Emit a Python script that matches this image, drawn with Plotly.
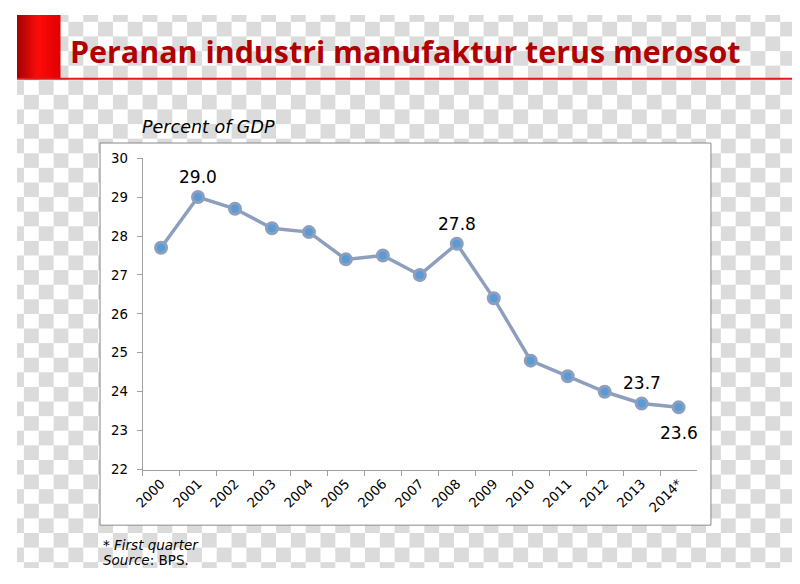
import zlib, struct, base64
import plotly.graph_objects as go

# ---- data ----
years = ["2000", "2001", "2002", "2003", "2004", "2005", "2006", "2007",
         "2008", "2009", "2010", "2011", "2012", "2013", "2014*"]
share = [27.7, 29.0, 28.7, 28.2, 28.1, 27.4, 27.5, 27.0,
         27.8, 26.4, 24.8, 24.4, 24.0, 23.7, 23.6]
labelled = {"2001": "top", "2008": "top", "2013": "top", "2014*": "bottom"}
y_ticks = [22, 23, 24, 25, 26, 27, 28, 29, 30]

# page is 800x584; the figure sits inside the 8px default body margin
OFF = 8
W, H = 800 - 2 * OFF, 584 - 2 * OFF


def px(x):
    return (x - OFF) / W


def py(y):
    return 1 - (y - OFF) / H


# ---- background picture: checkerboard + red gradient block ----
def png_uri(w, h, rows):
    raw = b"".join(b"\x00" + r for r in rows)

    def chunk(t, d):
        c = struct.pack(">I", len(d)) + t + d
        return c + struct.pack(">I", zlib.crc32(t + d) & 0xFFFFFFFF)

    png = (b"\x89PNG\r\n\x1a\n"
           + chunk(b"IHDR", struct.pack(">IIBBBBB", w, h, 8, 2, 0, 0, 0))
           + chunk(b"IDAT", zlib.compress(raw, 9))
           + chunk(b"IEND", b""))
    return "data:image/png;base64," + base64.b64encode(png).decode()


G = bytes((219, 219, 219))
Wh = bytes((255, 255, 255))
row_a = b"".join((G if (((x + OFF) // 15) % 2 == 1) else Wh) for x in range(W))
row_b = b"".join((G if (((x + OFF) // 15) % 2 == 0) else Wh) for x in range(W))


def red_at(sx):
    t = sx / 52.0
    if t < 0.55:
        s = t / 0.55
        return (int(125 + 130 * s), int(0 + 12 * s), int(0 + 12 * s))
    s = (t - 0.55) / 0.45
    return (int(255 - 30 * s), int(12 - 12 * s), int(12 - 12 * s))


RB = 52 - OFF
red_row = b"".join(bytes(red_at(x + OFF)) for x in range(RB))
rows = []
for y in range(H):
    r = row_a if ((y + OFF) // 15) % 2 == 0 else row_b
    if y + OFF < 73:
        r = red_row + r[RB * 3:]
    rows.append(r)
bg_uri = png_uri(W, H, rows)

# ---- figure ----
fig = go.Figure()
fig.add_trace(go.Scatter(
    x=years, y=share, mode="lines+markers",
    line=dict(color="#8d9fbd", width=3.5),
    marker=dict(size=11, color="#5b9bd5", line=dict(color="#8d9fbd", width=3)),
    cliponaxis=False, hoverinfo="skip",
))

label_anns = []
for i, (yr, v) in enumerate(zip(years, share)):
    if yr in labelled:
        up = labelled[yr] == "top"
        label_anns.append(dict(
            x=i, y=v, xref="x", yref="y", text=f"{v:.1f}", showarrow=False,
            xanchor="center", yanchor="middle", yshift=20 if up else -26,
            font=dict(family="DejaVu Sans", size=17, color="#000000")))

fig.update_layout(
    width=W, height=H,
    margin=dict(l=0, r=0, t=0, b=0),
    paper_bgcolor="white", plot_bgcolor="rgba(0,0,0,0)",
    showlegend=False,
    images=[dict(source=bg_uri, xref="paper", yref="paper", x=0, y=1,
                 sizex=1, sizey=1, xanchor="left", yanchor="top",
                 sizing="stretch", layer="below")],
    xaxis=dict(
        domain=[px(135), px(696)], type="category", range=[-0.5, 14.5],
        tickson="boundaries", ticks="outside", ticklen=5, tickcolor="#a0a0a0",
        showline=True, linecolor="#a0a0a0", linewidth=1, showgrid=False,
        tickangle=-45,
        tickfont=dict(family="DejaVu Sans", size=13.3, color="#000"),
    ),
    yaxis=dict(
        domain=[py(475), py(155)], range=[22, 30], tickvals=y_ticks,
        ticks="outside", ticklen=5, tickcolor="#a0a0a0",
        showline=True, linecolor="#a0a0a0", linewidth=1, showgrid=False,
        zeroline=False, ticklabelstandoff=6,
        tickfont=dict(family="DejaVu Sans", size=13.3, color="#000"),
    ),
    shapes=[
        dict(type="rect", xref="paper", yref="paper", layer="below",
             x0=px(92), x1=px(710), y0=py(532), y1=py(139.5),
             fillcolor="white", line=dict(color="#8a8a8a", width=1)),
        dict(type="line", xref="paper", yref="paper",
             x0=0, x1=1, y0=py(73.5), y1=py(73.5),
             line=dict(color="#e31a1a", width=2)),
    ],
    annotations=label_anns + [
        dict(text="<b>Peranan industri manufaktur terus merosot</b>",
             xref="paper", yref="paper", x=px(60), y=py(46),
             xanchor="left", yanchor="middle", showarrow=False,
             font=dict(family="Open Sans", size=30.4, color="#b00000")),
        dict(text="<i>Percent of GDP</i>", xref="paper", yref="paper",
             x=px(132), y=py(123), xanchor="left", yanchor="middle",
             showarrow=False,
             font=dict(family="DejaVu Sans", size=17.5, color="#000")),
        dict(text="<i>* First quarter</i>", xref="paper", yref="paper",
             x=px(93), y=py(552), xanchor="left", yanchor="middle",
             showarrow=False,
             font=dict(family="DejaVu Sans", size=13.5, color="#000")),
        dict(text="<i>Source</i>: BPS.", xref="paper", yref="paper",
             x=px(93), y=py(568), xanchor="left", yanchor="middle",
             showarrow=False,
             font=dict(family="DejaVu Sans", size=13.5, color="#000")),
    ],
)

fig.write_html("out.html", config={"displayModeBar": False})
